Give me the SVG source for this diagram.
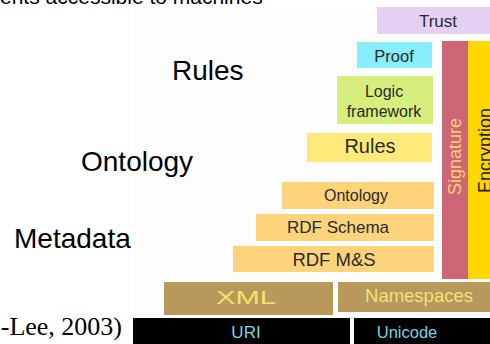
<svg xmlns="http://www.w3.org/2000/svg" width="490" height="344" viewBox="0 0 490 344">
<style>
.lbl{font-family:"Liberation Sans",Arial,sans-serif;font-size:28px;fill:#000}
.bt{font-family:"Liberation Sans",Arial,sans-serif;font-size:16px;fill:#2a2a2a;text-anchor:middle}
.onto{fill:#fdd47c}
</style>
<rect x="0" y="0" width="490" height="344" fill="#ffffff"/>
<rect x="133" y="7" width="357" height="337" fill="#fdfdfd"/>
<text x="0" y="4" font-family="Liberation Sans,Arial,sans-serif" font-size="21" fill="#000">ents accessible to machines</text>
<text class="lbl" x="172" y="80">Rules</text>
<text class="lbl" x="81" y="171">Ontology</text>
<text class="lbl" x="14" y="248">Metadata</text>
<text x="122" y="335" text-anchor="end" font-family="Liberation Serif,'Times New Roman',serif" font-size="26" fill="#000">-Lee, 2003)</text>
<g id="trust"><rect x="377" y="7" width="113" height="27" fill="#e5cff2"/><text class="bt" x="438" y="27" style="font-size:17px">Trust</text></g>
<g id="proof"><rect x="357" y="42" width="75" height="26" fill="#88eefc"/><text class="bt" x="394" y="62" style="font-size:16.5px">Proof</text></g>
<g id="logic"><rect x="337" y="76" width="96" height="48" fill="#d6ee7c"/><text class="bt" x="384" y="97">Logic</text><text class="bt" x="384" y="117">framework</text></g>
<g id="rules"><rect x="307" y="133" width="125" height="29" fill="#fdea7b"/><text class="bt" x="370" y="153" style="font-size:20px">Rules</text></g>
<g id="ontology"><rect class="onto" x="282" y="182" width="152" height="27"/><text class="bt" x="356" y="201">Ontology</text></g>
<g id="rdfschema"><rect class="onto" x="256" y="214" width="178" height="27"/><text class="bt" x="338" y="233" style="font-size:17px">RDF Schema</text></g>
<g id="rdfms"><rect class="onto" x="233" y="246" width="201" height="26"/><text class="bt" x="334" y="266" style="font-size:18.5px">RDF M&amp;S</text></g>
<g id="signature"><rect x="442" y="41" width="26" height="238" fill="#cc6677"/><text transform="translate(461,195) rotate(-90)" font-family="Liberation Sans,Arial,sans-serif" font-size="18" fill="#f8d070">Signature</text></g>
<g id="encryption"><rect x="468" y="41" width="22" height="238" fill="#ffd700"/><text transform="translate(491,193) rotate(-90)" font-family="Liberation Sans,Arial,sans-serif" font-size="18" fill="#222">Encryption</text></g>
<g id="xml"><rect x="164" y="282" width="169" height="33" fill="#b9985b"/><text class="bt" x="246" y="304" textLength="60" lengthAdjust="spacingAndGlyphs" style="font-size:19px;fill:#f2e46a">XML</text></g>
<g id="namespaces"><rect x="338" y="282" width="152" height="30" fill="#b9985b"/><text class="bt" x="419" y="302" style="font-size:18.5px;fill:#f2e27a">Namespaces</text></g>
<g id="uri"><rect x="133" y="318" width="217" height="26" fill="#000"/><text class="bt" x="246" y="338" style="font-size:17px;fill:#7cd4e0">URI</text></g>
<g id="unicode"><rect x="354" y="318" width="136" height="26" fill="#000"/><text class="bt" x="407" y="338" style="font-size:16.5px;fill:#7cd4e0">Unicode</text></g>
<g id="connectors"></g>
</svg>
